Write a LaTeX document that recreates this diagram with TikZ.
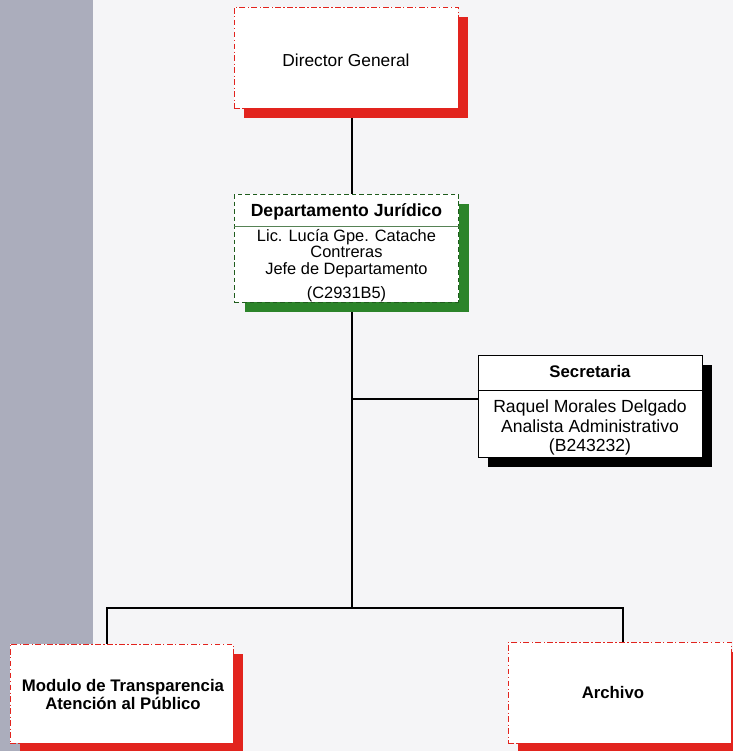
\documentclass[tikz,border=0pt]{standalone}
\usepackage{fontspec}
\setmainfont{Liberation Sans}
\usetikzlibrary{shadows,positioning}
\definecolor{stripgray}{RGB}{171,173,188}
\definecolor{papergray}{RGB}{245,245,247}
\definecolor{boxred}{RGB}{226,36,30}
\definecolor{boxgreen}{RGB}{44,132,42}

\tikzset{
  orgbox/.style={rectangle, fill=white, inner sep=0pt, minimum width=6.72cm},
  redbox/.style={orgbox, draw=boxred, line width=0.7pt,
    dash pattern=on 5pt off 2pt on 1.2pt off 2pt,
    general shadow={fill=boxred, shadow xshift=0.31cm, shadow yshift=-0.3cm}},
  greenbox/.style={orgbox, draw=boxgreen!70!black, line width=0.7pt,
    dash pattern=on 4pt off 2.5pt,
    general shadow={fill=boxgreen, shadow xshift=0.31cm, shadow yshift=-0.3cm}},
  blackbox/.style={orgbox, draw=black, line width=0.7pt,
    general shadow={fill=black, shadow xshift=0.31cm, shadow yshift=-0.3cm}},
  conn/.style={line width=0.9pt, black},
  boxtext/.style={align=center, inner sep=0pt, font=\fontsize{14}{14}\selectfont},
  boldtext/.style={boxtext, font=\fontsize{14.3}{16.2}\selectfont\bfseries}
}

\begin{document}
\begin{tikzpicture}[x=0.03cm, y=-0.03cm]

  % Fixed bounding box (page of the chart)
  \useasboundingbox (0,0) rectangle (733,751);
  \fill[papergray] (0,0) rectangle (733,751);
  \fill[stripgray] (0,0) rectangle (93,751);

  % ---- Boxes ----
  \node[redbox, minimum height=3.03cm] (dirgen) at (346,57.5) {};
  \node[boxtext, font=\fontsize{14.8}{16}\selectfont] (dirgentext) at (346,60) {Director General};

  \node[greenbox, minimum height=3.24cm] (juridico) at (346.5,248) {};
  \node[boldtext, font=\fontsize{15}{16}\selectfont\bfseries] (juridicotitle) at (346.5,212) {Departamento Jurídico};
  \draw[line width=0.6pt, boxgreen!50!gray] ([yshift=-0.99cm]juridico.north west) -- ([yshift=-0.99cm]juridico.north east);
  \node[boxtext, anchor=north] (juridicotext) at (346.5,229) {Lic. Lucía Gpe. Catache\\Contreras\\Jefe de Departamento\\[7pt](C2931B5)};

  \node[blackbox, minimum height=3.06cm] (secretaria) at (590,406) {};
  \node[boldtext] (secretariatitle) at (590,372) {Secretaria};
  \draw[line width=0.6pt] ([yshift=-1.08cm]secretaria.north west) -- ([yshift=-1.08cm]secretaria.north east);
  \node[boxtext, anchor=north, font=\fontsize{15}{16.6}\selectfont] (secretariatext) at (590,400) {Raquel Morales Delgado\\Analista Administrativo\\(B243232)};

  \node[redbox, minimum height=2.97cm, minimum width=6.69cm] (modulo) at (121.5,693.5) {};
  \node[boldtext] (modulotext) at (123,694.5) {Modulo de Transparencia\\Atención al Público};

  \node[redbox, minimum height=3.03cm, minimum width=6.69cm] (archivo) at (619.5,692.5) {};
  \node[boldtext] (archivotext) at (613,693) {Archivo};

  % ---- Connectors ----
  \coordinate (trunk) at (352,608);
  \coordinate (sbranch) at (352,399);
  \coordinate (busl) at (107,608);
  \coordinate (busr) at (623,608);
  \draw[conn] ([yshift=-0.3cm]dirgen.south -| trunk) -- (juridico.north -| trunk);
  \draw[conn] ([yshift=-0.3cm]juridico.south -| trunk) -- (trunk);
  \draw[conn] (sbranch) -- (sbranch -| secretaria.west);
  \draw[conn] (busl |- modulo.north) -- (busl) -- (busr) -- (busr |- archivo.north);

\end{tikzpicture}
\end{document}
